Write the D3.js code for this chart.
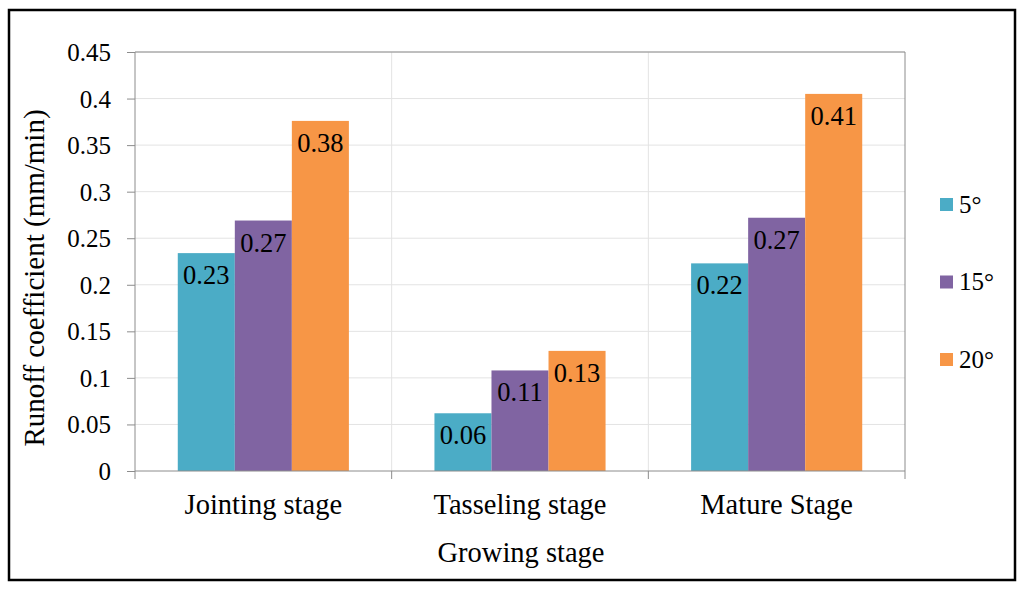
<!DOCTYPE html>
<html><head><meta charset="utf-8">
<script src="https://cdn.jsdelivr.net/npm/d3@7"></script>
<style>
html,body{margin:0;padding:0;background:#fff;}
svg text{font-family:"Liberation Serif","Times New Roman",Times,serif !important;}
</style></head>
<body>
<svg id="chart" width="1024" height="591"></svg>
<script>
const categories = ["Jointing stage", "Tasseling stage", "Mature Stage"];
const seriesNames = ["5°", "15°", "20°"];
const values5 = [0.234, 0.062, 0.223];
const values15 = [0.269, 0.108, 0.272];
const values20 = [0.376, 0.129, 0.405];
const labels5 = ["0.23", "0.06", "0.22"];
const labels15 = ["0.27", "0.11", "0.27"];
const labels20 = ["0.38", "0.13", "0.41"];
const yTicks = [0, 0.05, 0.1, 0.15, 0.2, 0.25, 0.3, 0.35, 0.4, 0.45];
const colors = ["#4BACC6", "#8064A2", "#F79646"];

const series = [
  {name: seriesNames[0], values: values5, labels: labels5},
  {name: seriesNames[1], values: values15, labels: labels15},
  {name: seriesNames[2], values: values20, labels: labels20}
];

const FS_NUM = 25, FS_LBL = 26.5, FS_TXT = 28.5;
const svg = d3.select("#chart");
const L = 135, R = 905, T = 52, B = 471;

svg.append("rect").attr("x", 9).attr("y", 10).attr("width", 1006).attr("height", 570)
  .attr("fill", "#fff").attr("stroke", "#000").attr("stroke-width", 2.5);

const x = d3.scaleBand().domain(categories).range([L, R]).paddingInner(0).paddingOuter(0);
const y = d3.scaleLinear().domain([0, 0.45]).range([B, T]);

svg.append("g").selectAll("line").data(yTicks.slice(1)).join("line")
  .attr("x1", L).attr("x2", R).attr("y1", d => y(d)).attr("y2", d => y(d))
  .attr("stroke", "#e3e3e3").attr("stroke-width", 1);
svg.append("g").selectAll("line").data(categories.slice(1)).join("line")
  .attr("x1", d => x(d)).attr("x2", d => x(d)).attr("y1", T).attr("y2", B)
  .attr("stroke", "#e3e3e3").attr("stroke-width", 1);

svg.append("path").attr("d", `M${L},${T}H${R}V${B}`).attr("fill", "none")
  .attr("stroke", "#8c8c8c").attr("stroke-width", 1);

const bw = x.bandwidth();
const groupW = bw * 2 / 3;
const xs = d3.scaleBand().domain(seriesNames).range([0, groupW]).padding(0);

series.forEach((s, si) => {
  const g = svg.append("g");
  g.selectAll("rect").data(categories).join("rect")
    .attr("x", (c) => x(c) + (bw - groupW) / 2 + xs(s.name))
    .attr("y", (c, i) => y(s.values[i]))
    .attr("width", xs.bandwidth())
    .attr("height", (c, i) => B - y(s.values[i]))
    .attr("fill", colors[si]);
  g.selectAll("text").data(categories).join("text")
    .attr("x", (c) => x(c) + (bw - groupW) / 2 + xs(s.name) + xs.bandwidth() / 2)
    .attr("y", (c, i) => y(s.values[i]) + 31)
    .attr("text-anchor", "middle")
    .attr("font-size", FS_LBL)
    .attr("fill", "#000")
    .text((c, i) => s.labels[i]);
});

const yAxis = d3.axisLeft(y).tickValues(yTicks).tickSize(8).tickPadding(16)
  .tickFormat(d => d3.format("")(+d.toFixed(2)));
const ya = svg.append("g").attr("transform", `translate(${L},0)`).call(yAxis);
ya.select(".domain").attr("stroke", "#8c8c8c").attr("d", `M0,${T}V${B}`);
ya.selectAll(".tick line").attr("stroke", "#8c8c8c");
ya.selectAll(".tick text").attr("font-size", FS_NUM).attr("fill", "#000").attr("dy", "0.34em");

const xa = svg.append("g").attr("transform", `translate(0,${B})`);
xa.append("line").attr("x1", L).attr("x2", R).attr("y1", 0).attr("y2", 0).attr("stroke", "#8c8c8c");
const bounds = [L, ...categories.slice(1).map(c => x(c)), R];
xa.selectAll("line.tk").data(bounds).join("line").attr("class", "tk")
  .attr("x1", d => d).attr("x2", d => d).attr("y1", 0).attr("y2", 8).attr("stroke", "#8c8c8c");
xa.selectAll("text").data(categories).join("text")
  .attr("x", c => x(c) + bw / 2).attr("y", 43)
  .attr("text-anchor", "middle").attr("font-size", FS_TXT).attr("fill", "#000")
  .text(c => c);

svg.append("text").attr("x", 521).attr("y", 562).attr("text-anchor", "middle")
  .attr("font-size", FS_TXT).attr("fill", "#000").text("Growing stage");
svg.append("text").attr("transform", `translate(44,278) rotate(-90)`)
  .attr("text-anchor", "middle").attr("font-size", 29).attr("fill", "#000")
  .text("Runoff coefficient (mm/min)");

const leg = svg.append("g").selectAll("g").data(series).join("g")
  .attr("transform", (d, i) => `translate(940,${198 + i * 77.5})`);
leg.append("rect").attr("width", 13).attr("height", 13).attr("fill", (d, i) => colors[i]);
leg.append("text").attr("x", 19).attr("y", 14.5).attr("font-size", FS_NUM).attr("fill", "#000")
  .text(d => d.name);
</script>
</body></html>
